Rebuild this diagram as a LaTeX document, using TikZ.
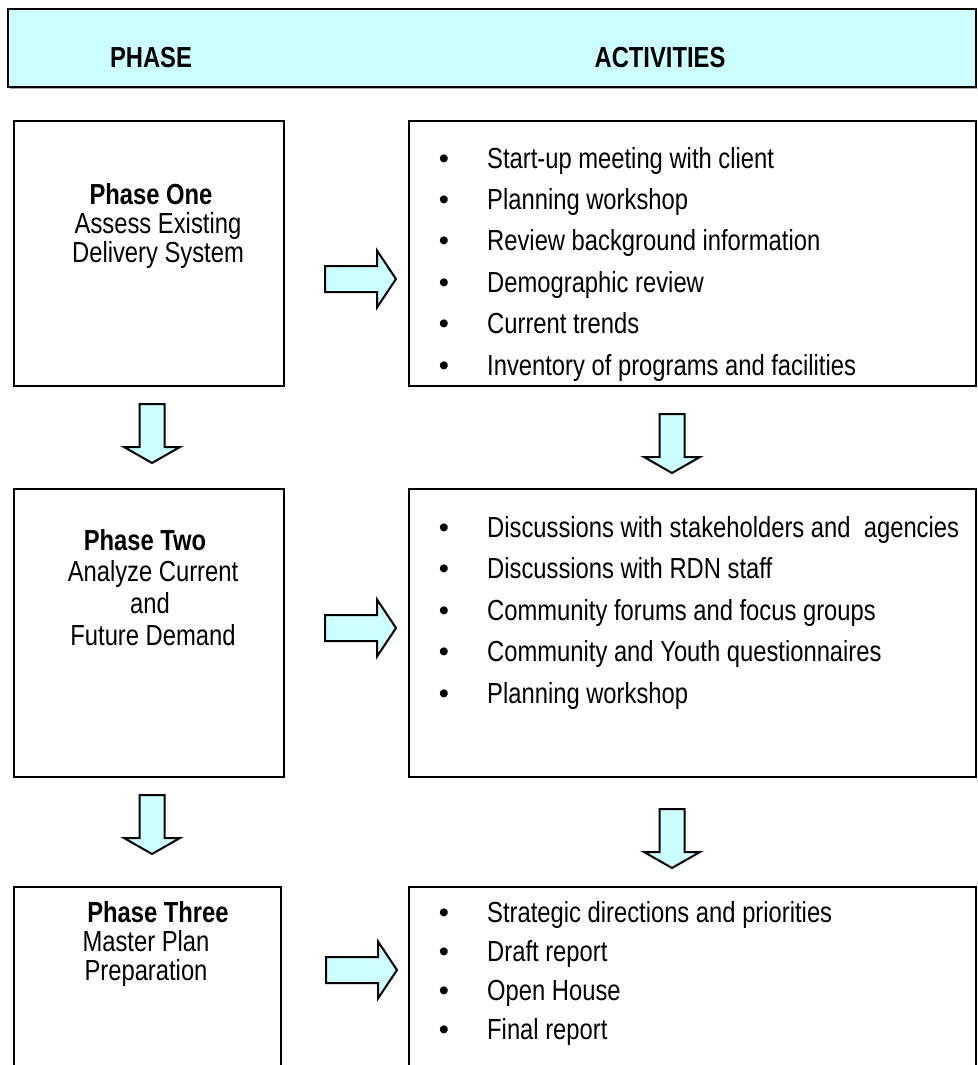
\documentclass[tikz,border=0pt]{standalone}
\usepackage{fontspec}
\setmainfont{Liberation Sans}[FakeStretch=0.82]
\newfontfamily\bulletfont{Liberation Sans}
\definecolor{lightcyan}{HTML}{CCFFFF}
\begin{document}
\begin{tikzpicture}[x=1pt,y=-1pt,
  box/.style={draw=black, line width=2.2pt, anchor=north west, inner sep=0pt},
  txt/.style={font=\fontsize{29}{34}\selectfont, anchor=base, inner sep=0pt},
  bold/.style={txt, font=\fontsize{29}{34}\selectfont\bfseries},
  item/.style={txt, anchor=base west},
  dot/.style={font=\bulletfont\fontsize{29}{34}\selectfont, anchor=base, inner sep=0pt},
  blockarrow/.style={draw=black, fill=lightcyan, line width=2pt, line join=miter},
  rarr/.pic={\draw[blockarrow] (0,-13) -- (52,-13) -- (52,-28.5) -- (71,0) -- (52,28.5) -- (52,13) -- (0,13) -- cycle;},
  darr/.pic={\draw[blockarrow] (-12.5,0) -- (12.5,0) -- (12.5,43) -- (28,43) -- (0,59) -- (-28,43) -- (-12.5,43) -- cycle;}
]
\useasboundingbox (0,0) rectangle (977,1065);
\clip (0,0) rectangle (977,1065);
% header
\fill[gray!70] (10,11) rectangle (977,89);
\node[box, fill=lightcyan, minimum width=968pt, minimum height=78pt] (hdr) at (7,8) {};
\node[bold] (hphase) at (151,67) {PHASE};
\node[bold] (hact) at (660,67) {ACTIVITIES};
% boxes
\node[box, minimum width=270pt, minimum height=265pt] (p1) at (13,120) {};
\node[box, minimum width=567pt, minimum height=265pt] (a1) at (408,120) {};
\node[box, minimum width=270pt, minimum height=288pt] (p2) at (13,488) {};
\node[box, minimum width=567pt, minimum height=288pt] (a2) at (408,488) {};
\node[box, minimum width=267pt, minimum height=250pt] (p3) at (13,886) {};
\node[box, minimum width=567pt, minimum height=250pt] (a3) at (408,886) {};
% phase texts
\node[bold] (p1t) at (151,204) {Phase One};
\node[txt] (p1u) at (158,233) {Assess Existing};
\node[txt] (p1v) at (158,262) {Delivery System};
\node[bold] (p2t) at (145,550) {Phase Two};
\node[txt] (p2u) at (153,581) {Analyze Current};
\node[txt] (p2v) at (150,613) {and};
\node[txt] (p2w) at (153,645) {Future Demand};
\node[bold] (p3t) at (158,922) {Phase Three};
\node[txt] (p3u) at (146,951) {Master Plan};
\node[txt] (p3v) at (146,980) {Preparation};
% activities
\foreach \t [count=\i] in {Start-up meeting with client, Planning workshop, Review background information, Demographic review, Current trends, Inventory of programs and facilities}{
  \node[dot] (b1\i) at (444,{168+41.4*(\i-1)}) {•};
  \node[item] (i1\i) at (487,{168+41.4*(\i-1)}) {\t};
}
\foreach \t [count=\i] in {Discussions with stakeholders and~ agencies, Discussions with RDN staff, Community forums and focus groups, Community and Youth questionnaires, Planning workshop}{
  \node[dot] (b2\i) at (444,{537+41.5*(\i-1)}) {•};
  \node[item] (i2\i) at (487,{537+41.5*(\i-1)}) {\t};
}
\foreach \t [count=\i] in {Strategic directions and priorities, Draft report, Open House, Final report}{
  \node[dot] (b3\i) at (444,{922+39*(\i-1)}) {•};
  \node[item] (i3\i) at (487,{922+39*(\i-1)}) {\t};
}
% block arrows
\pic at (325,279) {rarr};
\pic at (325,628) {rarr};
\pic at (326,970) {rarr};
\pic at (152,404) {darr};
\pic at (152,795) {darr};
\pic at (672,414) {darr};
\pic at (672,809) {darr};
\end{tikzpicture}
\end{document}
